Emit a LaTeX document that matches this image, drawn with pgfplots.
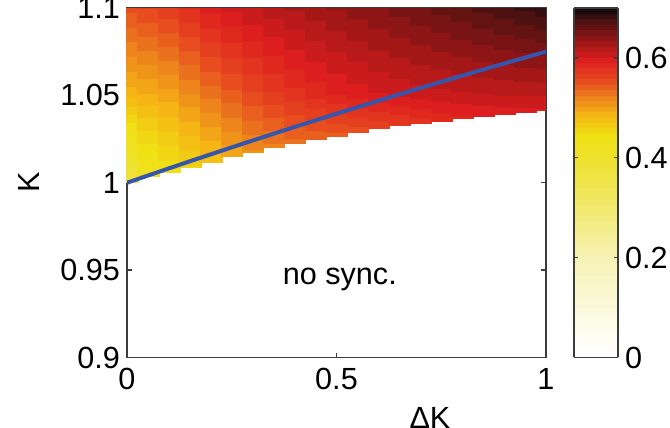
\documentclass[border=0pt]{standalone}
\usepackage{fontspec}
\setmainfont{Liberation Sans}
\usepackage{pgfplots}
\usepackage{pgfplotstable}
\pgfplotsset{compat=1.18}
\usepgfplotslibrary{patchplots}
\definecolor{lineblue}{RGB}{55,85,170}
\definecolor{axgray}{RGB}{60,60,60}
\pgfplotsset{colormap={hotish}{rgb255(0pt)=(255,255,255) rgb255(200pt)=(247,242,180) rgb255(350pt)=(240,229,75) rgb255(400pt)=(238,226,45) rgb255(445pt)=(240,225,20) rgb255(490pt)=(245,180,20) rgb255(530pt)=(235,120,30) rgb255(560pt)=(230,70,30) rgb255(600pt)=(220,30,30) rgb255(625pt)=(180,25,25) rgb255(650pt)=(130,20,20) rgb255(675pt)=(85,18,18) rgb255(700pt)=(25,10,10)}}
\pgfplotsset{colormap={hotband}{samples of colormap={64 of hotish}}}

\pgfplotstableread{
x y c
-0.0256 1.0000 0.370
0.0256 1.0000 0.370
0.0256 1.0500 0.485
-0.0256 1.0500 0.485
-0.0256 1.0495 0.485
0.0256 1.0495 0.485
0.0256 1.1000 0.550
-0.0256 1.1000 0.550
0.0244 1.0038 0.420
0.0756 1.0038 0.420
0.0756 1.0500 0.490
0.0244 1.0500 0.490
0.0244 1.0495 0.490
0.0756 1.0495 0.490
0.0756 1.1000 0.558
0.0244 1.1000 0.558
0.0744 1.0063 0.440
0.1256 1.0063 0.440
0.1256 1.0500 0.497
0.0744 1.0500 0.497
0.0744 1.0495 0.497
0.1256 1.0495 0.497
0.1256 1.1000 0.566
0.0744 1.1000 0.566
0.1244 1.0092 0.458
0.1756 1.0092 0.458
0.1756 1.0500 0.512
0.1244 1.0500 0.512
0.1244 1.0495 0.512
0.1756 1.0495 0.512
0.1756 1.1000 0.580
0.1244 1.1000 0.580
0.1744 1.0120 0.475
0.2256 1.0120 0.475
0.2256 1.0500 0.528
0.1744 1.0500 0.528
0.1744 1.0495 0.528
0.2256 1.0495 0.528
0.2256 1.1000 0.595
0.1744 1.1000 0.595
0.2244 1.0153 0.495
0.2756 1.0153 0.495
0.2756 1.0500 0.542
0.2244 1.0500 0.542
0.2244 1.0495 0.542
0.2756 1.0495 0.542
0.2756 1.1000 0.604
0.2244 1.1000 0.604
0.2744 1.0177 0.512
0.3256 1.0177 0.512
0.3256 1.0500 0.555
0.2744 1.0500 0.555
0.2744 1.0495 0.555
0.3256 1.0495 0.555
0.3256 1.1000 0.612
0.2744 1.1000 0.612
0.3244 1.0206 0.522
0.3756 1.0206 0.522
0.3756 1.0500 0.566
0.3244 1.0500 0.566
0.3244 1.0495 0.566
0.3756 1.0495 0.566
0.3756 1.1000 0.619
0.3244 1.1000 0.619
0.3744 1.0229 0.532
0.4256 1.0229 0.532
0.4256 1.0500 0.575
0.3744 1.0500 0.575
0.3744 1.0495 0.575
0.4256 1.0495 0.575
0.4256 1.1000 0.625
0.3744 1.1000 0.625
0.4244 1.0248 0.538
0.4756 1.0248 0.538
0.4756 1.0500 0.583
0.4244 1.0500 0.583
0.4244 1.0495 0.583
0.4756 1.0495 0.583
0.4756 1.1000 0.630
0.4244 1.1000 0.630
0.4744 1.0267 0.543
0.5256 1.0267 0.543
0.5256 1.0500 0.590
0.4744 1.0500 0.590
0.4744 1.0495 0.590
0.5256 1.0495 0.590
0.5256 1.1000 0.635
0.4744 1.1000 0.635
0.5244 1.0292 0.552
0.5756 1.0292 0.552
0.5756 1.0500 0.595
0.5244 1.0500 0.595
0.5244 1.0495 0.595
0.5756 1.0495 0.595
0.5756 1.1000 0.640
0.5244 1.1000 0.640
0.5744 1.0311 0.560
0.6256 1.0311 0.560
0.6256 1.0500 0.600
0.5744 1.0500 0.600
0.5744 1.0495 0.600
0.6256 1.0495 0.600
0.6256 1.1000 0.645
0.5744 1.1000 0.645
0.6244 1.0330 0.568
0.6756 1.0330 0.568
0.6756 1.0500 0.603
0.6244 1.0500 0.603
0.6244 1.0495 0.603
0.6756 1.0495 0.603
0.6756 1.1000 0.650
0.6244 1.1000 0.650
0.6744 1.0340 0.575
0.7256 1.0340 0.575
0.7256 1.0500 0.606
0.6744 1.0500 0.606
0.6744 1.0495 0.606
0.7256 1.0495 0.606
0.7256 1.1000 0.655
0.6744 1.1000 0.655
0.7244 1.0353 0.582
0.7756 1.0353 0.582
0.7756 1.0500 0.608
0.7244 1.0500 0.608
0.7244 1.0495 0.608
0.7756 1.0495 0.608
0.7756 1.1000 0.660
0.7244 1.1000 0.660
0.7744 1.0368 0.588
0.8256 1.0368 0.588
0.8256 1.0500 0.610
0.7744 1.0500 0.610
0.7744 1.0495 0.610
0.8256 1.0495 0.610
0.8256 1.1000 0.665
0.7744 1.1000 0.665
0.8244 1.0382 0.592
0.8756 1.0382 0.592
0.8756 1.0500 0.611
0.8244 1.0500 0.611
0.8244 1.0495 0.611
0.8756 1.0495 0.611
0.8756 1.1000 0.670
0.8244 1.1000 0.670
0.8744 1.0391 0.595
0.9256 1.0391 0.595
0.9256 1.0500 0.612
0.8744 1.0500 0.612
0.8744 1.0495 0.612
0.9256 1.0495 0.612
0.9256 1.1000 0.675
0.8744 1.1000 0.675
0.9244 1.0403 0.598
0.9756 1.0403 0.598
0.9756 1.0500 0.612
0.9244 1.0500 0.612
0.9244 1.0495 0.612
0.9756 1.0495 0.612
0.9756 1.1000 0.680
0.9244 1.1000 0.680
0.9744 1.0416 0.600
1.0256 1.0416 0.600
1.0256 1.0500 0.612
0.9744 1.0500 0.612
0.9744 1.0495 0.612
1.0256 1.0495 0.612
1.0256 1.1000 0.685
0.9744 1.1000 0.685
}\cells

\begin{document}
\begin{tikzpicture}
\begin{axis}[
  at={(0pt,0pt)}, anchor=south west,
  scale only axis, width=209.5pt, height=174.75pt,
  xmin=0, xmax=1, ymin=0.9, ymax=1.1,
  xtick={0,0.5,1}, ytick={0.9,0.95,1,1.05,1.1},
  tick align=inside, tick pos=both, major tick length=2.5pt,
  axis line style={axgray, line width=0.7pt},
  every tick/.style={axgray, line width=0.7pt},
  font=\fontsize{15.3}{18}\selectfont,
  /pgf/number format/assume math mode=true,
  xticklabel style={yshift=-2pt},
  xlabel={ΔK}, ylabel={K},
  xlabel style={at={(axis description cs:0.723,-0.173)}, anchor=center},
  ylabel style={at={(axis description cs:-0.234,0.5)}, anchor=center},
  colormap name=hotband, colormap access=piecewise constant,
  point meta min=0, point meta max=0.7,
  colorbar,
  colorbar style={
    at={(parent axis.north east)}, anchor=north west, xshift=5.5pt,
    width=22pt,
    ytick={0,0.2,0.4,0.6},
    tick align=inside, ytick pos=both, yticklabel pos=right,
    major tick length=2pt,
    axis line style={axgray, line width=0.7pt},
    every tick/.style={axgray, line width=0.7pt},
    font=\fontsize{15.3}{18}\selectfont,
    /pgf/number format/assume math mode=true,
  },
]
\addplot[patch, patch type=rectangle, shader=interp, point meta=explicit] table[x=x, y=y, meta=c] {\cells};
\addplot[lineblue, line width=2pt, smooth] coordinates {
(0,1.0) (0.1,1.00822) (0.2,1.01628) (0.3,1.02418) (0.4,1.03192) (0.5,1.0395) (0.6,1.04692) (0.7,1.05418) (0.8,1.06128) (0.9,1.06822) (1.0,1.075)};
\node[anchor=base] at (axis cs:0.508,0.9415) {no sync.};
\end{axis}
\pgfresetboundingbox
\path[use as bounding box] (-63.5pt,-35.25pt) rectangle (271.5pt,178.75pt);
\end{tikzpicture}
\end{document}
